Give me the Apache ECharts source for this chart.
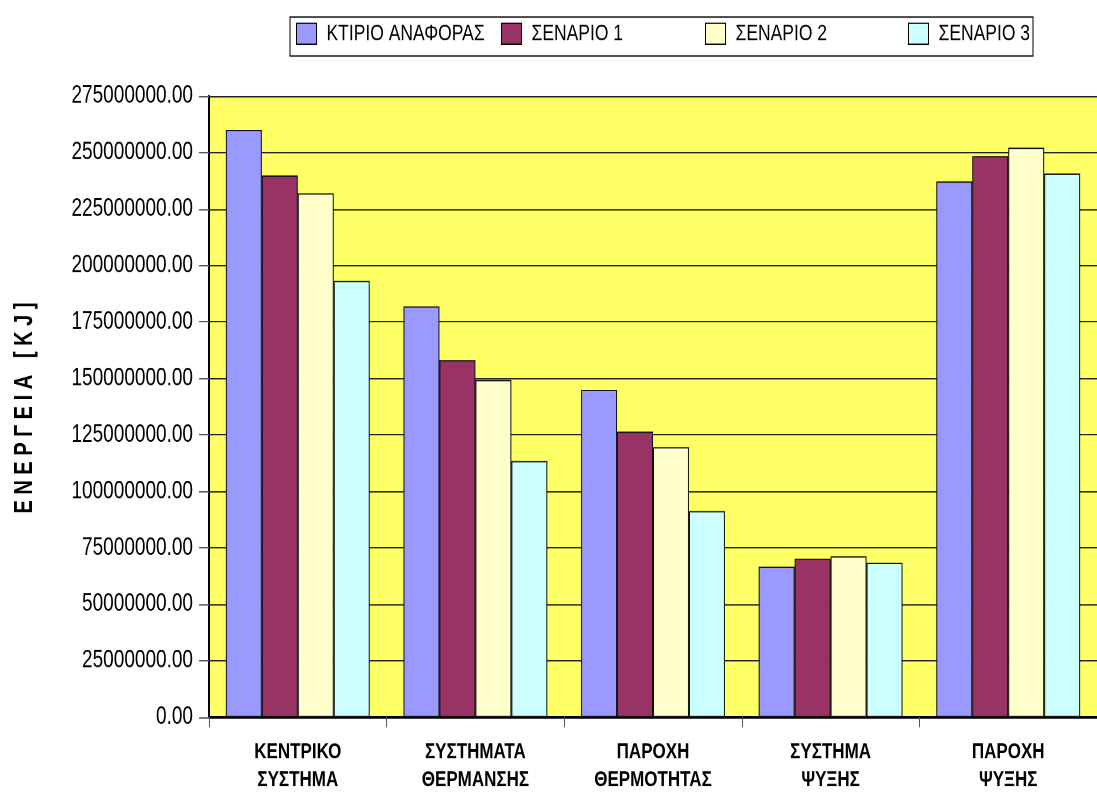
<!DOCTYPE html>
<html>
<head>
<meta charset="utf-8">
<script src="https://cdn.jsdelivr.net/npm/echarts@6/dist/echarts.min.js"></script>
<style>
html,body{margin:0;padding:0;background:#fff;overflow:hidden;}
#wrap{width:1097px;height:794px;overflow:hidden;}
#chart{width:1097px;height:611px;transform-origin:0 0;}
</style>
</head>
<body>
<div id="wrap"><div id="chart"></div></div>
<script>
const categories = ['ΚΕΝΤΡΙΚΟ\nΣΥΣΤΗΜΑ', 'ΣΥΣΤΗΜΑΤΑ\nΘΕΡΜΑΝΣΗΣ', 'ΠΑΡΟΧΗ\nΘΕΡΜΟΤΗΤΑΣ', 'ΣΥΣΤΗΜΑ\nΨΥΞΗΣ', 'ΠΑΡΟΧΗ\nΨΥΞΗΣ'];
const seriesNames = ['ΚΤΙΡΙΟ ΑΝΑΦΟΡΑΣ', 'ΣΕΝΑΡΙΟ 1', 'ΣΕΝΑΡΙΟ 2', 'ΣΕΝΑΡΙΟ 3'];
const ktirio = [260000000, 181900000, 144900000, 66700000, 237200000];
const senario1 = [239800000, 158100000, 126400000, 70200000, 248400000];
const senario2 = [231900000, 149300000, 119500000, 71200000, 252100000];
const senario3 = [193200000, 113400000, 91300000, 68400000, 240700000];
const yMin = 0, yMax = 275000000, yInterval = 25000000;
const yTitle = 'Ε Ν Ε Ρ Γ Ε Ι Α   [ K J ]';

const colors = ['#9999FF', '#993366', '#FFFFCC', '#CCFFFF'];
const allData = [ktirio, senario1, senario2, senario3];
const sans = "'Liberation Sans', Arial, sans-serif";
const legendLefts = [296, 501, 705, 908];

// The reference is vertically stretched; draw at reduced height and stretch.
const H = 611, K = 794 / H;
const el = document.getElementById('chart');
el.style.transform = 'scaleY(' + K + ')';
const sy = v => v / K;

const chart = echarts.init(el, null, {renderer: 'canvas', devicePixelRatio: 2});
const option = {
  animation: false,
  backgroundColor: '#ffffff',
  grid: {
    left: 209, right: -2, top: sy(96), bottom: sy(794 - 722),
    show: true, backgroundColor: '#FFFF66', borderWidth: 0
  },
  legend: seriesNames.map((n, i) => ({
    data: [{name: n, icon: 'rect'}],
    left: legendLefts[i],
    top: sy(22),
    itemWidth: 20,
    itemHeight: sy(21),
    padding: 0,
    itemStyle: {borderColor: '#000', borderWidth: 1},
    textStyle: {fontFamily: sans, fontSize: 17.5, color: '#000', padding: [0, 0, 0, 5]}
  })),
  graphic: [
    {type: 'rect', z: -1, shape: {x: 290, y: sy(17), width: 743, height: sy(39)},
     style: {fill: '#fff', stroke: '#000', lineWidth: 1}},
    {type: 'text', x: 25, y: sy(408), rotation: Math.PI / 2, scaleX: 1 / K, scaleY: K,
     style: {text: yTitle, fontFamily: sans, fontWeight: 'bold',
             fontSize: 20, fill: '#000', align: 'center', verticalAlign: 'middle'}}
  ],
  xAxis: {
    type: 'category',
    data: categories,
    axisLine: {show: true, lineStyle: {color: '#000', width: 2}},
    axisTick: {show: true, length: sy(10), lineStyle: {color: '#555', width: 1}},
    axisLabel: {
      fontFamily: sans, fontWeight: 'bold', fontSize: 17, color: '#000',
      lineHeight: sy(28), margin: 16, interval: 0
    },
    splitLine: {show: false}
  },
  yAxis: {
    type: 'value',
    min: yMin, max: yMax, interval: yInterval,
    axisLine: {show: true, lineStyle: {color: '#000', width: 2}},
    axisTick: {show: true, length: 10, lineStyle: {color: '#555', width: 1}},
    axisLabel: {
      fontFamily: sans, fontSize: 19, color: '#000', margin: 16,
      formatter: v => v.toFixed(2)
    },
    splitLine: {show: true, lineStyle: {color: '#222', width: 1}}
  },
  series: seriesNames.map((n, i) => ({
    name: n,
    type: 'bar',
    data: allData[i],
    barGap: '0%',
    barCategoryGap: '19%',
    itemStyle: {color: colors[i], borderColor: '#111', borderWidth: 1},
    emphasis: {disabled: true}
  }))
};
chart.setOption(option);
</script>
</body>
</html>
